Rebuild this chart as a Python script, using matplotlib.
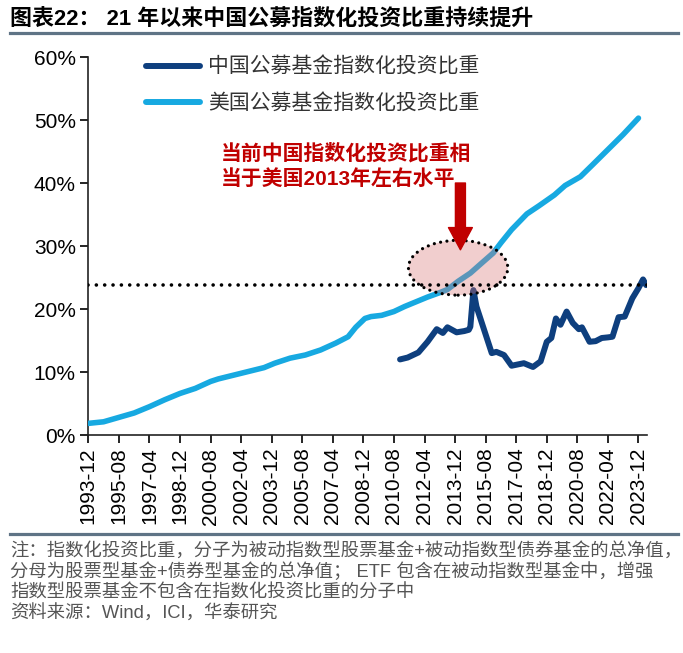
import matplotlib
matplotlib.use("Agg")
import matplotlib.pyplot as plt
from matplotlib.patches import Ellipse
from matplotlib.lines import Line2D

plt.rcParams['font.family'] = ['Liberation Sans', 'Noto Sans CJK SC']

# data (monthly dates, % values)
us_dates = ['1993-12', '1994-10', '1995-08', '1996-06', '1997-04', '1998-02', '1998-12',
            '1999-10', '2000-08', '2001-01', '2001-11', '2002-09', '2003-07', '2004-02',
            '2004-12', '2005-10', '2006-08', '2007-06', '2008-02', '2008-07', '2009-01',
            '2009-05', '2009-12', '2010-08', '2011-03', '2011-11', '2012-06', '2013-02',
            '2013-07', '2014-02', '2014-10', '2015-05', '2016-01', '2016-06', '2017-01',
            '2017-11', '2018-07', '2019-05', '2019-12', '2020-10', '2021-06', '2022-04',
            '2023-02', '2023-12']
us_values = [1.85, 2.1, 2.8, 3.5, 4.5, 5.6, 6.6, 7.4, 8.5, 8.9, 9.5, 10.1, 10.7, 11.4,
             12.2, 12.7, 13.5, 14.6, 15.6, 17.1, 18.5, 18.8, 19.0, 19.6, 20.4, 21.2, 21.9,
             22.6, 23.1, 24.4, 25.7, 27.2, 28.9, 30.5, 32.6, 35.1, 36.4, 38.1, 39.6, 41.0,
             42.9, 45.3, 47.7, 50.3]

cn_dates = ['2010-12', '2011-05', '2011-12', '2012-06', '2012-12', '2013-04', '2013-07',
            '2014-01', '2014-06', '2014-09', '2014-10', '2014-12', '2015-02', '2015-07',
            '2015-12', '2016-03', '2016-08', '2017-01', '2017-09', '2018-03', '2018-08',
            '2018-12', '2019-03', '2019-06', '2019-09', '2020-01', '2020-05', '2020-09',
            '2020-11', '2021-04', '2021-08', '2021-12', '2022-04', '2022-07', '2022-11',
            '2023-03', '2023-08', '2023-12', '2024-03', '2024-05']
cn_values = [12.0, 12.3, 13.1, 14.8, 16.8, 16.2, 17.1, 16.3, 16.5, 16.7, 17.2, 23.0, 20.4,
             16.7, 13.0, 13.2, 12.7, 11.0, 11.4, 10.8, 11.7, 14.8, 15.4, 18.5, 17.5, 19.6,
             17.8, 16.8, 17.1, 14.8, 14.9, 15.4, 15.5, 15.6, 18.7, 18.8, 21.7, 23.3, 24.7,
             23.8]

tick_labels = ['1993-12', '1995-08', '1997-04', '1998-12', '2000-08', '2002-04', '2003-12',
               '2005-08', '2007-04', '2008-12', '2010-08', '2012-04', '2013-12', '2015-08',
               '2017-04', '2018-12', '2020-08', '2022-04', '2023-12']

ref_level = 23.8   # current China level
start = '1993-12'
end = '2024-05'


def month_idx(s):
    y, m = s.split('-')
    y0, m0 = start.split('-')
    return (int(y) - int(y0)) * 12 + int(m) - int(m0)


us_x = [month_idx(d) for d in us_dates]
cn_x = [month_idx(d) for d in cn_dates]
ticks = [month_idx(d) for d in tick_labels]

dark_blue = '#0E3F7E'
light_blue = '#17A9E1'
red = '#C00000'

fig = plt.figure(figsize=(6.83, 6.53), dpi=100)
ax = fig.add_axes([0.1293, 0.3338, 0.818, 0.5789])

ax.plot(us_x, us_values, color=light_blue, lw=4.0, solid_capstyle='round',
        solid_joinstyle='round', zorder=3)
ax.plot(cn_x, cn_values, color=dark_blue, lw=4.3, solid_capstyle='round',
        solid_joinstyle='round', zorder=4)

# highlight ellipse around the US 2013 level
us_2013 = month_idx('2013-12')
ell = Ellipse((us_2013 + 2, 26.55), width=65, height=8.7,
              facecolor=(0.85, 0.45, 0.45, 0.35), edgecolor='black',
              linestyle=(0, (0.01, 2.0)), lw=2.3, capstyle='round', zorder=5)
ax.add_patch(ell)

ax.plot([0, month_idx(end) + 0.5], [ref_level, ref_level], color='black', lw=2.6,
        dashes=(0.01, 2.3), dash_capstyle='round', zorder=6)

ax.annotate('', xy=(us_2013 + 3.5, 29.4), xytext=(us_2013 + 3.5, 40.0),
            arrowprops=dict(arrowstyle='simple,head_length=0.8,head_width=0.86,tail_width=0.36',
                            color=red, mutation_scale=20, shrinkA=0, shrinkB=0), zorder=7)

ax.text(0.2375, 0.773, '当前中国指数化投资比重相\n当于美国2013年左右水平', transform=ax.transAxes,
        color=red, fontsize=15, fontweight='bold', va='top', ha='left', linespacing=1.35)

ax.set_xlim(0, month_idx(end) + 0.6)
ax.set_ylim(0, 60)
ax.set_yticks(range(0, 61, 10))
ax.set_yticklabels([f'{v}%' for v in range(0, 61, 10)], fontsize=15)
ax.set_xticks(ticks)
ax.set_xticklabels(tick_labels, rotation=90, fontsize=15)
ax.tick_params(axis='both', direction='out', length=6, width=1.2, colors='black', pad=3)
for s in ['top', 'right']:
    ax.spines[s].set_visible(False)
for s in ['left', 'bottom']:
    ax.spines[s].set_color('#222222')
    ax.spines[s].set_linewidth(1.2)

handles = [Line2D([], [], color=dark_blue, lw=4.3, solid_capstyle='round'),
           Line2D([], [], color=light_blue, lw=4.3, solid_capstyle='round')]
fig.legend(handles, ['中国公募基金指数化投资比重', '美国公募基金指数化投资比重'],
           loc='upper left', bbox_to_anchor=(146 / 683, 1 - 57 / 653), frameon=False,
           fontsize=15, handlelength=2.6, handletextpad=0.4, labelspacing=0.79,
           borderpad=0, borderaxespad=0, labelcolor='#333333')

# title and footer
fig.text(10 / 683, 1 - 20 / 653, '图表22： 21 年以来中国公募指数化投资比重持续提升',
         fontsize=15.8, fontweight='bold', va='center', ha='left')
fig.add_artist(Line2D([10 / 683, 678 / 683], [1 - 33 / 653, 1 - 33 / 653],
                      color='#5F7486', lw=2.3))
fig.add_artist(Line2D([10 / 683, 678 / 683], [1 - 534 / 653, 1 - 534 / 653],
                      color='#5F7486', lw=2.3))

notes = ['注：指数化投资比重，分子为被动指数型股票基金+被动指数型债券基金的总净值，',
         '分母为股票型基金+债券型基金的总净值； ETF 包含在被动指数型基金中，增强',
         '指数型股票基金不包含在指数化投资比重的分子中',
         '资料来源：Wind，ICI，华泰研究']
for i, line in enumerate(notes):
    fig.text(10 / 683, 1 - (551 + 21 * i) / 653, line, fontsize=13.2, color='#555555',
             va='center', ha='left')

fig.savefig('out.png', dpi=100)
